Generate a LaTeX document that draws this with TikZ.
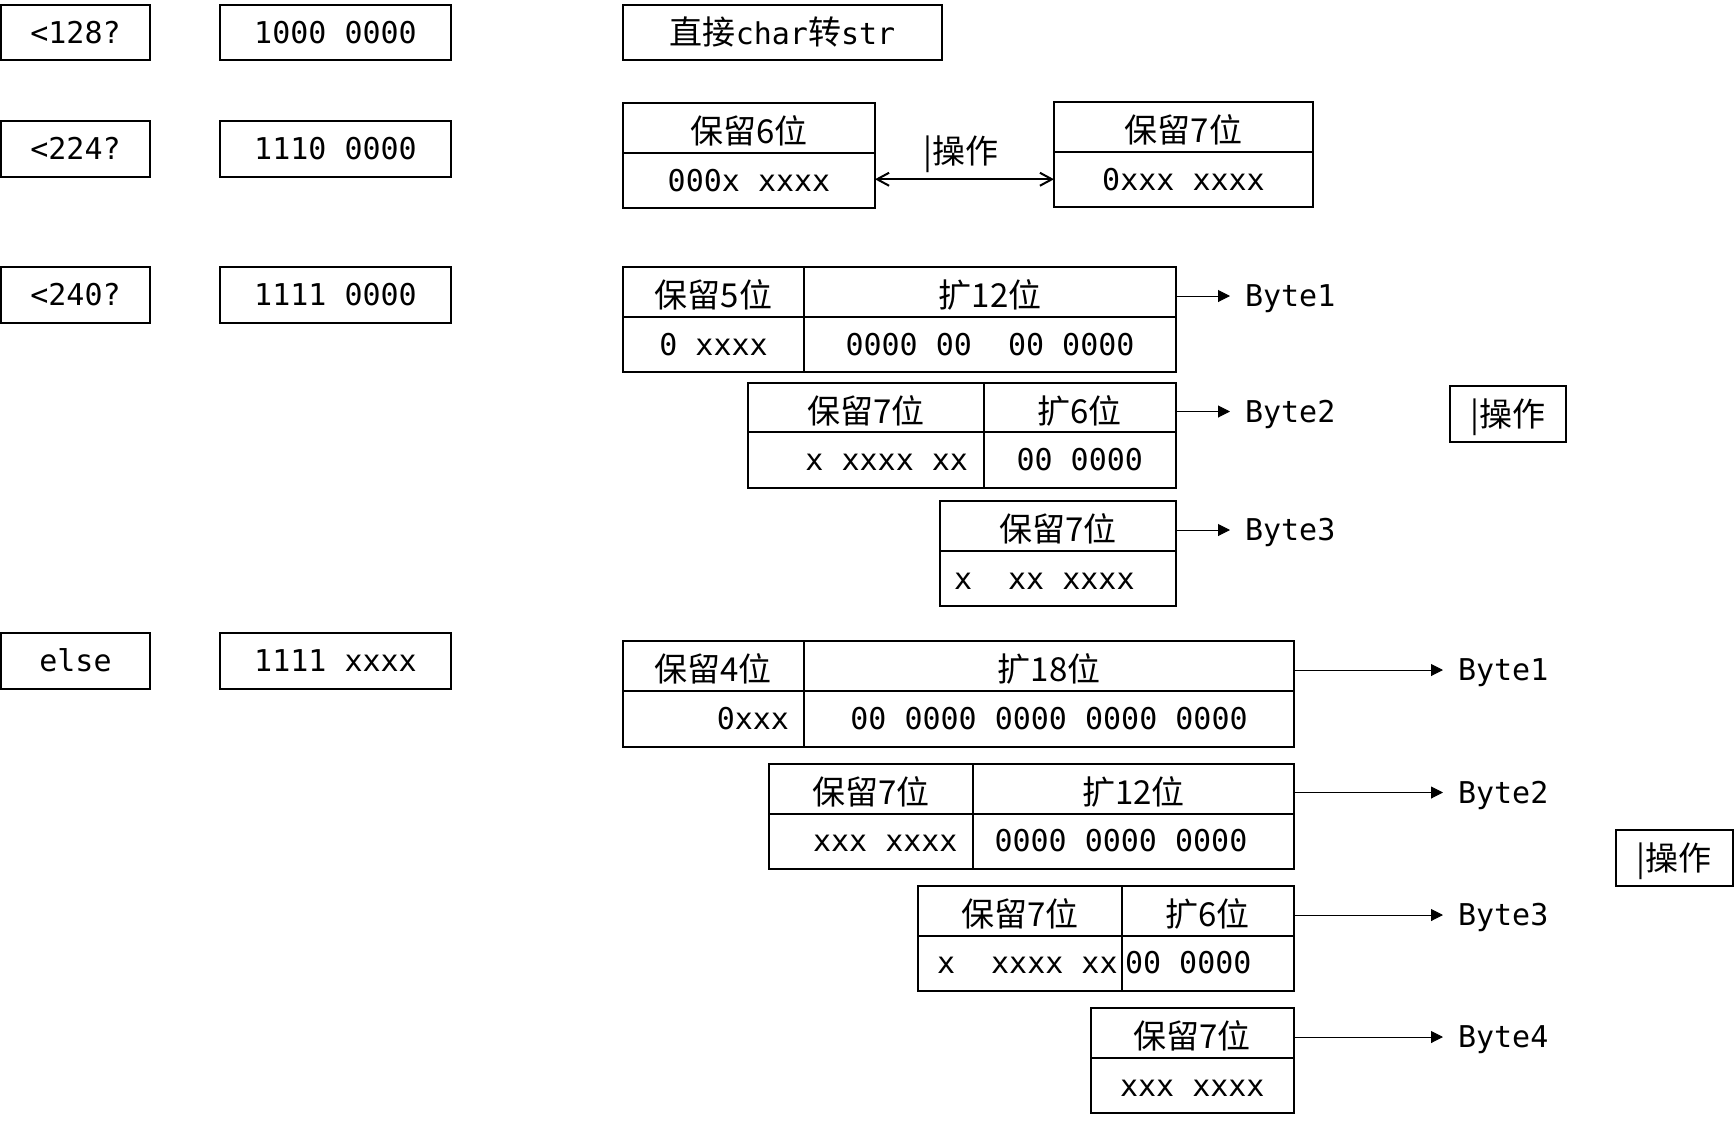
\documentclass[tikz,border=0pt]{standalone}
\usepackage{fontspec}
\usetikzlibrary{arrows.meta}
\newfontfamily\zhfam{Noto Sans CJK SC}
\newfontfamily\monofam{DejaVu Sans Mono}
\newcommand\myzh{\zhfam\fontsize{16.5pt}{18pt}\selectfont}
\newcommand\mymono{\monofam\fontsize{15pt}{18pt}\selectfont}
\tikzset{
  box/.style={draw, line width=1pt, rectangle, inner sep=0pt, outer sep=0pt, anchor=north west},
  mono/.style={font=\mymono, text height=10.95pt, text depth=0pt, inner sep=0pt, outer sep=0pt},
  zh/.style={font=\myzh, text height=12.5pt, text depth=0pt, inner sep=0pt, outer sep=0pt},
  hdr/.style={font=\myzh, text height=15.5pt, text depth=0pt},
  bytelab/.style={mono, anchor=west, inner xsep=7.5pt},
  arr/.style={line width=0.5pt, -{Triangle[length=6pt,width=6pt]}},
  dbl/.style={line width=1pt, {Straight Barb[length=6pt,width=6.5pt]}-{Straight Barb[length=6pt,width=6.5pt]}}
}
\begin{document}
\begin{tikzpicture}[x=0.5pt, y=-0.5pt]
\useasboundingbox (0,0) rectangle (1736,1125);

% ---- left column
\node[box, mono, minimum width=74.5pt, minimum height=27.75pt] (q1) at (1,4.5) {<128?};
\node[box, mono, minimum width=115.5pt, minimum height=27.75pt] (m1) at (220,4.5) {1000 0000};
\node[box, mono, minimum width=74.5pt, minimum height=27.75pt] (q2) at (1,121) {<224?};
\node[box, mono, minimum width=115.5pt, minimum height=27.75pt] (m2) at (220,121) {1110 0000};
\node[box, mono, minimum width=74.5pt, minimum height=27.75pt] (q3) at (1,267) {<240?};
\node[box, mono, minimum width=115.5pt, minimum height=27.75pt] (m3) at (220,267) {1111 0000};
\node[box, mono, minimum width=74.5pt, minimum height=27.75pt] (q4) at (1,633) {else};
\node[box, mono, minimum width=115.5pt, minimum height=27.75pt] (m4) at (220,633) {1111 xxxx};

% ---- row 1
\node[box, zh, minimum width=159.5pt, minimum height=27.75pt] (s1) at (623,4.5) {直接{\mymono char}转{\mymono str}};

% ---- row 2
\node[box, hdr, minimum width=126pt, minimum height=25pt] (a1) at (623,102.5) {保留6位};
\node[box, mono, minimum width=126pt, minimum height=27.75pt] (a2) at (623,152.5) {000x xxxx};
\node[box, hdr, minimum width=129.5pt, minimum height=25pt] (b1) at (1054,102) {保留7位};
\node[box, mono, minimum width=129.5pt, minimum height=27.25pt] (b2) at (1054,152) {0xxx xxxx};
\draw[dbl] (b2.west -| a2.east) -- (b2.west);
\node[zh] (op0) at (961,151) {|操作};

% ---- row 3
\node[box, hdr, minimum width=90.5pt, minimum height=25pt] (c1) at (623,267) {保留5位};
\node[box, hdr, minimum width=186pt, minimum height=25pt] (c2) at (804,267) {扩12位};
\node[box, mono, minimum width=90.5pt, minimum height=27.5pt] (c3) at (623,317) {0 xxxx};
\node[box, mono, minimum width=186pt, minimum height=27.5pt] (c4) at (804,317) {0000 00~~00 0000};

\node[box, hdr, minimum width=117.75pt, minimum height=24.5pt] (d1) at (748,383) {保留7位};
\node[box, hdr, minimum width=96.25pt, minimum height=24.5pt] (d2) at (983.5,383) {扩6位};
\node[box, minimum width=117.75pt, minimum height=27.75pt] (d3) at (748,432) {};
\node[mono, anchor=east] (d3t) at ([xshift=-7.75pt]d3.east) {x xxxx xx};
\node[box, mono, minimum width=96.25pt, minimum height=27.75pt] (d4) at (983.5,432) {00 0000};

\node[box, hdr, minimum width=118pt, minimum height=25pt] (e1) at (940,501) {保留7位};
\node[box, minimum width=118pt, minimum height=27.5pt] (e2) at (940,551) {};
\node[mono, anchor=west] (e2t) at ([xshift=7pt]e2.west) {x~~xx xxxx};

\node[bytelab] (y31) at (1230,296) {Byte1};
\node[bytelab] (y32) at (1230,411.5) {Byte2};
\node[bytelab] (y33) at (1230,530) {Byte3};
\draw[arr] (y31.west -| c2.east) -- (y31.west);
\draw[arr] (y32.west -| d2.east) -- (y32.west);
\draw[arr] (y33.west -| e1.east) -- (y33.west);

\node[box, zh, minimum width=58.25pt, minimum height=28pt] (p1) at (1449.5,386) {|操作};

% ---- row 4
\node[box, hdr, minimum width=90.75pt, minimum height=25pt] (f1) at (622.5,641) {保留4位};
\node[box, hdr, minimum width=245pt, minimum height=25pt] (f2) at (804,641) {扩18位};
\node[box, minimum width=90.75pt, minimum height=28pt] (f3) at (622.5,691) {};
\node[mono, anchor=east] (f3t) at ([xshift=-7.5pt]f3.east) {0xxx};
\node[box, mono, minimum width=245pt, minimum height=28pt] (f4) at (804,691) {00 0000 0000 0000 0000};

\node[box, hdr, minimum width=102.25pt, minimum height=24.75pt] (g1) at (768.5,764) {保留7位};
\node[box, hdr, minimum width=160.5pt, minimum height=24.75pt] (g2) at (973,764) {扩12位};
\node[box, minimum width=102.25pt, minimum height=27.5pt] (g3) at (768.5,813.5) {};
\node[mono, anchor=east] (g3t) at ([xshift=-7.75pt]g3.east) {xxx xxxx};
\node[box, minimum width=160.5pt, minimum height=27.5pt] (g4) at (973,813.5) {};
\node[mono, anchor=west] (g4t) at ([xshift=10.75pt]g4.west) {0000 0000 0000};

\node[box, hdr, minimum width=101.75pt, minimum height=24.75pt] (h1) at (918,886) {保留7位};
\node[box, hdr, minimum width=86.25pt, minimum height=24.75pt] (h2) at (1121.5,886) {扩6位};
\node[box, minimum width=101.75pt, minimum height=27.5pt] (h3) at (918,935.5) {};
\node[mono, anchor=west] (h3t) at ([xshift=9.5pt]h3.west) {x~~xxxx xx};
\node[box, minimum width=86.25pt, minimum height=27.5pt] (h4) at (1121.5,935.5) {};
\node[mono, anchor=west] (h4t) at ([xshift=1.75pt]h4.west) {00 0000};

\node[box, hdr, minimum width=101.75pt, minimum height=25pt] (k1) at (1090.5,1008) {保留7位};
\node[box, mono, minimum width=101.75pt, minimum height=27.5pt] (k2) at (1090.5,1058) {xxx xxxx};

\node[bytelab] (y41) at (1443,670) {Byte1};
\node[bytelab] (y42) at (1443,792.5) {Byte2};
\node[bytelab] (y43) at (1443,915) {Byte3};
\node[bytelab] (y44) at (1443,1037) {Byte4};
\draw[arr] (y41.west -| f2.east) -- (y41.west);
\draw[arr] (y42.west -| g2.east) -- (y42.west);
\draw[arr] (y43.west -| h2.east) -- (y43.west);
\draw[arr] (y44.west -| k1.east) -- (y44.west);

\node[box, zh, minimum width=58.25pt, minimum height=28pt] (p2) at (1616,829.5) {|操作};
\end{tikzpicture}
\end{document}
